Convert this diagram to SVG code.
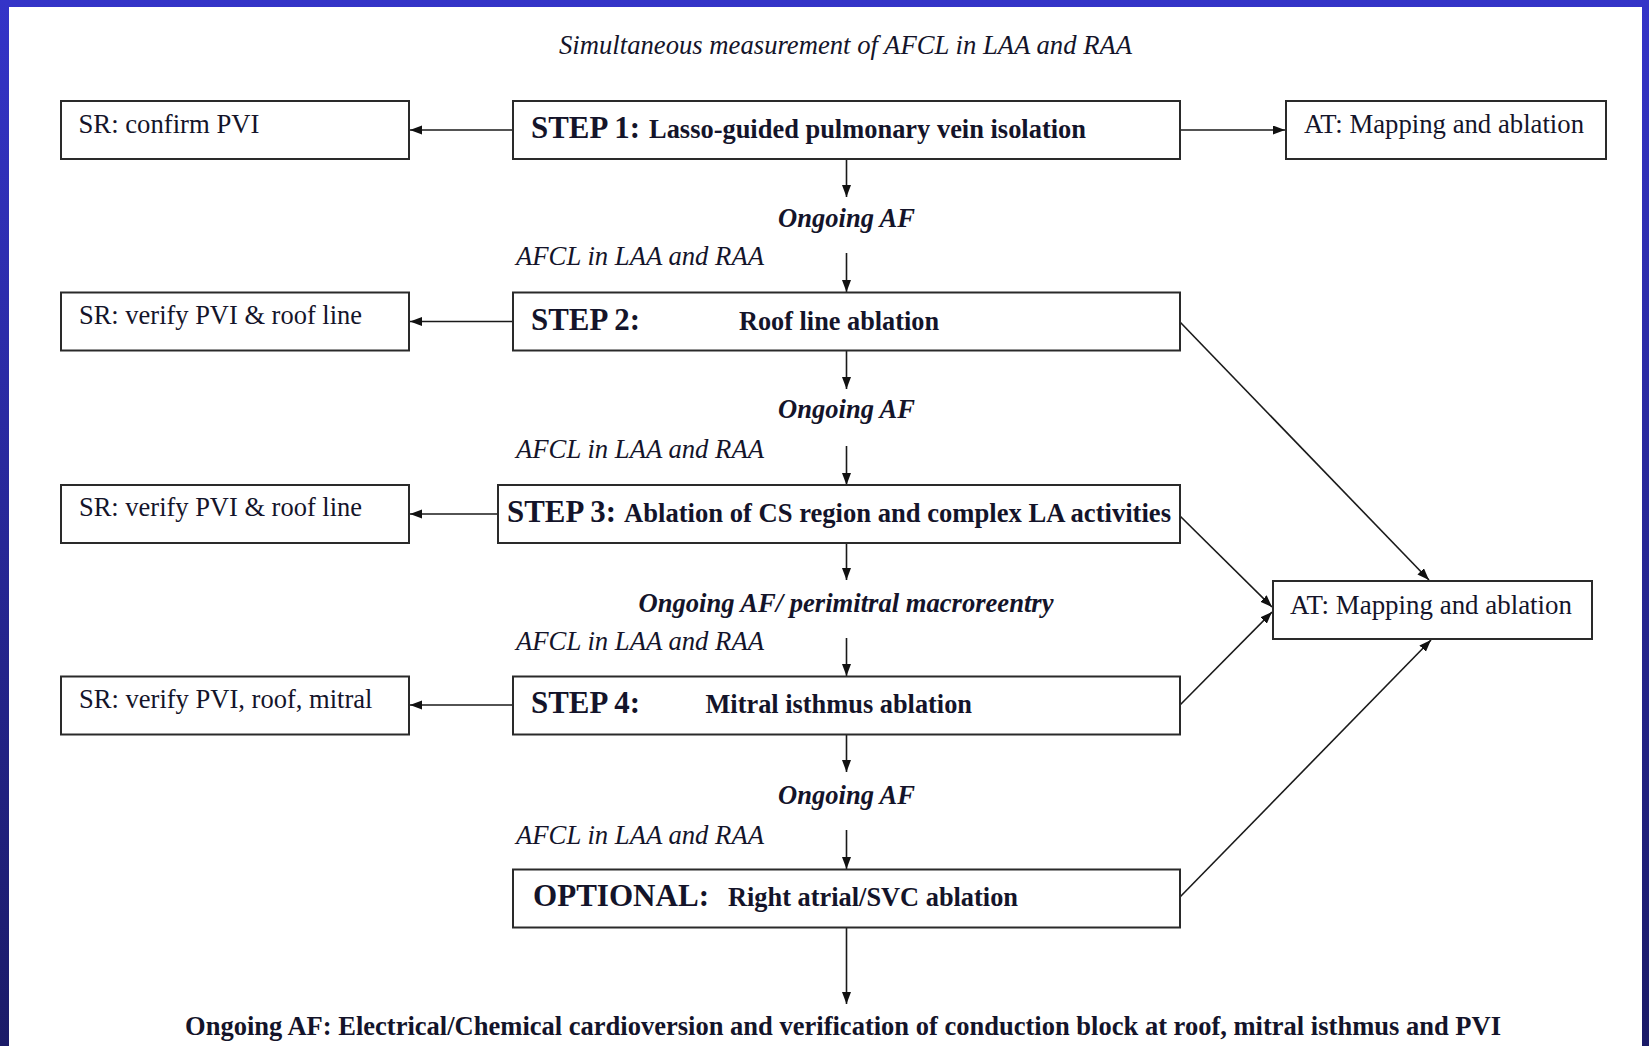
<svg xmlns="http://www.w3.org/2000/svg" width="1649" height="1046" viewBox="0 0 1649 1046">
  <defs>
    <linearGradient id="bg" x1="0" y1="0" x2="0" y2="1">
      <stop offset="0" stop-color="#3434c8"/>
      <stop offset="1" stop-color="#1b1b68"/>
    </linearGradient>
    <marker id="ah" markerUnits="userSpaceOnUse" markerWidth="13" markerHeight="10" refX="12" refY="4.5" orient="auto">
      <path d="M0,0 L12,4.5 L0,9 z" fill="#111"/>
    </marker>
    <style>
      .box { fill: #fff; stroke: #2a2a2a; stroke-width: 2; }
      .t { font-family: "Liberation Serif", "Times New Roman", serif; fill: #14142a; }
      .reg { font-size: 26.5px; }
      .it { font-size: 26.5px; font-style: italic; }
      .bi { font-size: 26.5px; font-style: italic; font-weight: bold; }
      .bd { font-size: 26.5px; font-weight: bold; }
      .step { font-size: 30.5px; font-weight: bold; }
      .ln { stroke: #1a1a1a; stroke-width: 1.6; fill: none; }
    </style>
  </defs>

  <rect x="0" y="0" width="1649" height="1046" fill="url(#bg)"/>
  <rect x="9" y="7" width="1633" height="1039" fill="#fff"/>

  <text class="t it" x="559" y="54" textLength="573" lengthAdjust="spacingAndGlyphs">Simultaneous measurement of AFCL in LAA and RAA</text>

  <g id="connectors">
    <line class="ln" x1="513" y1="130" x2="410" y2="130" marker-end="url(#ah)"/>
    <line class="ln" x1="513" y1="321.5" x2="410" y2="321.5" marker-end="url(#ah)"/>
    <line class="ln" x1="498" y1="514" x2="410" y2="514" marker-end="url(#ah)"/>
    <line class="ln" x1="513" y1="705" x2="410" y2="705" marker-end="url(#ah)"/>
    <line class="ln" x1="1180" y1="130" x2="1285" y2="130" marker-end="url(#ah)"/>
    <line class="ln" x1="846.5" y1="159" x2="846.5" y2="197" marker-end="url(#ah)"/>
    <line class="ln" x1="846.5" y1="253" x2="846.5" y2="292" marker-end="url(#ah)"/>
    <line class="ln" x1="846.5" y1="350" x2="846.5" y2="389" marker-end="url(#ah)"/>
    <line class="ln" x1="846.5" y1="446" x2="846.5" y2="485" marker-end="url(#ah)"/>
    <line class="ln" x1="846.5" y1="543" x2="846.5" y2="580" marker-end="url(#ah)"/>
    <line class="ln" x1="846.5" y1="638" x2="846.5" y2="676" marker-end="url(#ah)"/>
    <line class="ln" x1="846.5" y1="734" x2="846.5" y2="772" marker-end="url(#ah)"/>
    <line class="ln" x1="846.5" y1="830" x2="846.5" y2="869" marker-end="url(#ah)"/>
    <line class="ln" x1="846.5" y1="928" x2="846.5" y2="1004" marker-end="url(#ah)"/>
    <line class="ln" x1="1180" y1="322" x2="1429" y2="580" marker-end="url(#ah)"/>
    <line class="ln" x1="1180" y1="516" x2="1272" y2="607" marker-end="url(#ah)"/>
    <line class="ln" x1="1180" y1="705" x2="1272" y2="612" marker-end="url(#ah)"/>
    <line class="ln" x1="1180" y1="897" x2="1431" y2="640" marker-end="url(#ah)"/>
  </g>

  <g id="node-sr1">
    <rect class="box" x="61" y="101" width="348" height="58"/>
    <text class="t reg" x="78.5" y="133" textLength="181" lengthAdjust="spacingAndGlyphs">SR: confirm PVI</text>
  </g>
  <g id="node-step1">
    <rect class="box" x="513" y="101" width="667" height="58"/>
    <text class="t step" x="531" y="137.5" textLength="109" lengthAdjust="spacingAndGlyphs">STEP 1:</text>
    <text class="t bd" x="649" y="137.5" textLength="437" lengthAdjust="spacingAndGlyphs">Lasso-guided pulmonary vein isolation</text>
  </g>
  <g id="node-at1">
    <rect class="box" x="1286" y="101" width="320" height="58"/>
    <text class="t reg" x="1304" y="133" textLength="280" lengthAdjust="spacingAndGlyphs">AT: Mapping and ablation</text>
  </g>

  <g id="label-ongoing1">
    <text class="t bi" x="846.5" y="227" text-anchor="middle" textLength="137" lengthAdjust="spacingAndGlyphs">Ongoing AF</text>
  </g>
  <g id="label-afcl1">
    <text class="t it" x="516" y="265" textLength="248" lengthAdjust="spacingAndGlyphs">AFCL in LAA and RAA</text>
  </g>

  <g id="node-sr2">
    <rect class="box" x="61" y="292.5" width="348" height="58"/>
    <text class="t reg" x="79" y="324" textLength="283" lengthAdjust="spacingAndGlyphs">SR: verify PVI &amp; roof line</text>
  </g>
  <g id="node-step2">
    <rect class="box" x="513" y="292.5" width="667" height="58"/>
    <text class="t step" x="531" y="330" textLength="109" lengthAdjust="spacingAndGlyphs">STEP 2:</text>
    <text class="t bd" x="739" y="330" textLength="200" lengthAdjust="spacingAndGlyphs">Roof line ablation</text>
  </g>

  <g id="label-ongoing2">
    <text class="t bi" x="846.5" y="418" text-anchor="middle" textLength="137" lengthAdjust="spacingAndGlyphs">Ongoing AF</text>
  </g>
  <g id="label-afcl2">
    <text class="t it" x="516" y="458" textLength="248" lengthAdjust="spacingAndGlyphs">AFCL in LAA and RAA</text>
  </g>

  <g id="node-sr3">
    <rect class="box" x="61" y="485" width="348" height="58"/>
    <text class="t reg" x="79" y="516" textLength="283" lengthAdjust="spacingAndGlyphs">SR: verify PVI &amp; roof line</text>
  </g>
  <g id="node-step3">
    <rect class="box" x="498" y="485" width="682" height="58"/>
    <text class="t step" x="507" y="521.5" textLength="109" lengthAdjust="spacingAndGlyphs">STEP 3:</text>
    <text class="t bd" x="624" y="521.5" textLength="547" lengthAdjust="spacingAndGlyphs">Ablation of CS region and complex LA activities</text>
  </g>

  <g id="label-ongoing3">
    <text class="t bi" x="638.5" y="612" textLength="415" lengthAdjust="spacingAndGlyphs">Ongoing AF/ perimitral macroreentry</text>
  </g>
  <g id="label-afcl3">
    <text class="t it" x="516" y="650" textLength="248" lengthAdjust="spacingAndGlyphs">AFCL in LAA and RAA</text>
  </g>

  <g id="node-at2">
    <rect class="box" x="1273" y="581" width="319" height="58"/>
    <text class="t reg" x="1290" y="613.5" textLength="282" lengthAdjust="spacingAndGlyphs">AT: Mapping and ablation</text>
  </g>

  <g id="node-sr4">
    <rect class="box" x="61" y="676.5" width="348" height="58"/>
    <text class="t reg" x="79" y="707.5" textLength="293.5" lengthAdjust="spacingAndGlyphs">SR: verify PVI, roof, mitral</text>
  </g>
  <g id="node-step4">
    <rect class="box" x="513" y="676.5" width="667" height="58"/>
    <text class="t step" x="531" y="713" textLength="109" lengthAdjust="spacingAndGlyphs">STEP 4:</text>
    <text class="t bd" x="705.5" y="713" textLength="266.5" lengthAdjust="spacingAndGlyphs">Mitral isthmus ablation</text>
  </g>

  <g id="label-ongoing4">
    <text class="t bi" x="846.5" y="804" text-anchor="middle" textLength="137" lengthAdjust="spacingAndGlyphs">Ongoing AF</text>
  </g>
  <g id="label-afcl4">
    <text class="t it" x="516" y="843.5" textLength="248" lengthAdjust="spacingAndGlyphs">AFCL in LAA and RAA</text>
  </g>

  <g id="node-optional">
    <rect class="box" x="513" y="869.5" width="667" height="58"/>
    <text class="t step" x="533" y="906" textLength="176" lengthAdjust="spacingAndGlyphs">OPTIONAL:</text>
    <text class="t bd" x="728" y="906" textLength="290" lengthAdjust="spacingAndGlyphs">Right atrial/SVC ablation</text>
  </g>

  <g id="label-final">
    <text class="t bd" x="185" y="1035" textLength="1316" lengthAdjust="spacingAndGlyphs">Ongoing AF: Electrical/Chemical cardioversion and verification of conduction block at roof, mitral isthmus and PVI</text>
  </g>
</svg>
